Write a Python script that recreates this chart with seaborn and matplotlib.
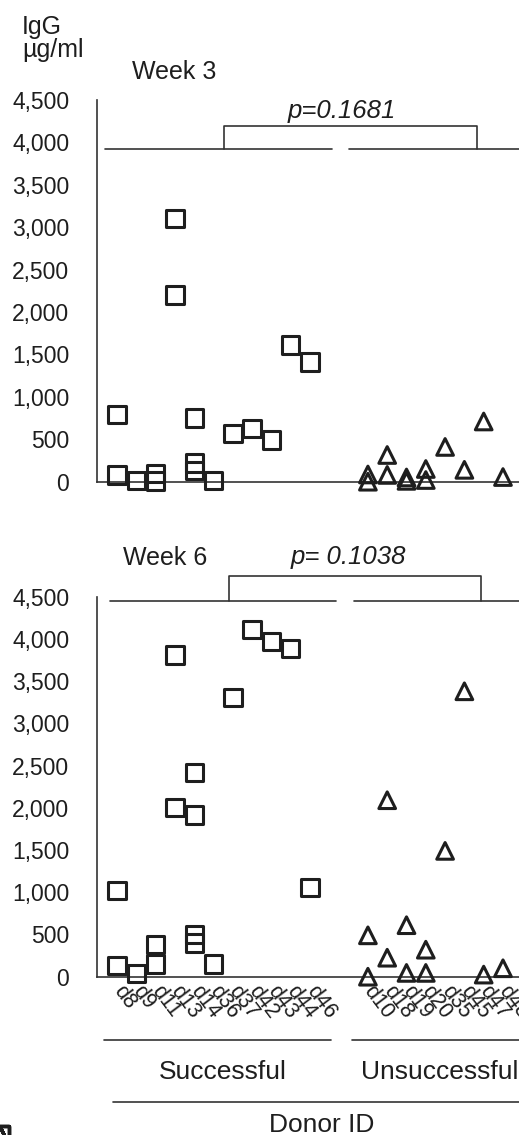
import numpy as np
import pandas as pd
import matplotlib
matplotlib.use("Agg")
import matplotlib.pyplot as plt
import seaborn as sns
from matplotlib.ticker import StrMethodFormatter

# ---------------- data ----------------
succ_donors = ["d8", "d9", "d11", "d13", "d14", "d36", "d37", "d42", "d43", "d44", "d46"]
unsucc_donors = ["d10", "d18", "d19", "d20", "d35", "d45", "d47", "d48"]
gap_slots = [" ", "  "]

w3_succ_donor = ["d8", "d8", "d9", "d11", "d11", "d13", "d13", "d14", "d14", "d14",
                 "d36", "d37", "d42", "d43", "d44", "d46"]
w3_succ_igg = [790, 80, 15, 100, 10, 3100, 2200, 750, 220, 130, 15, 570, 630, 490, 1610, 1410]
w3_unsucc_donor = ["d10", "d10", "d18", "d18", "d19", "d19", "d20", "d20", "d35", "d45", "d47", "d48"]
w3_unsucc_igg = [85, 0, 315, 80, 50, 10, 150, 20, 410, 140, 710, 55]

w6_succ_donor = ["d8", "d8", "d9", "d11", "d11", "d13", "d13", "d14", "d14", "d14", "d14",
                 "d36", "d37", "d42", "d43", "d44", "d46"]
w6_succ_igg = [1020, 130, 40, 380, 150, 3810, 2005, 2415, 1915, 500, 400, 150, 3310, 4110, 3970, 3890, 1060]
w6_unsucc_donor = ["d10", "d10", "d18", "d18", "d19", "d19", "d20", "d20", "d35", "d45", "d47", "d48"]
w6_unsucc_igg = [490, 0, 2090, 225, 610, 45, 320, 45, 1490, 3380, 25, 100]

yticks = list(range(0, 5000, 500))
group_names = ["Successful", "Unsuccessful"]
p_values = ["p=0.1681", "p= 0.1038"]
week_titles = ["Week 3", "Week 6"]

# ---------------- style ----------------
sns.set_style("white")
plt.rcParams["font.family"] = ["Liberation Sans", "DejaVu Sans"]
INK = "#1e1e1e"
LINE = "#333333"

W, H = 519, 1135
fig = plt.figure(figsize=(W / 100, H / 100), dpi=100)

order = succ_donors + gap_slots + unsucc_donors
xlim = (-1.04, 20.83)

def fy(px):
    return 1 - px / H

def fx(px):
    return px / W

ax_top = fig.add_axes([fx(97), fy(481.7), 1 - fx(97), 381.7 / H])
ax_bot = fig.add_axes([fx(97), fy(976.7), 1 - fx(97), 380 / H])


def panel(ax, sd, sv, ud, uv):
    df_s = pd.DataFrame({"donor": sd, "igg": sv})
    df_u = pd.DataFrame({"donor": ud, "igg": uv})
    sns.stripplot(data=df_s, x="donor", y="igg", order=order, jitter=False,
                  marker="s", size=12.5, color="white", edgecolor=INK,
                  linewidth=2.2, ax=ax)
    sns.stripplot(data=df_u, x="donor", y="igg", order=order, jitter=False,
                  marker="^", size=12, color="white", edgecolor=INK,
                  linewidth=2.2, ax=ax)
    for c in ax.collections:
        c.set_facecolor("none")
        c.set_clip_on(False)
    ax.set_xlim(*xlim)
    ax.set_ylim(0, 4500)
    ax.set_yticks(yticks)
    ax.yaxis.set_major_formatter(StrMethodFormatter("{x:,.0f}"))
    ax.tick_params(axis="y", length=0, pad=20, labelsize=16.5, labelcolor=INK)
    ax.tick_params(axis="x", length=0)
    ax.set_xlabel("")
    ax.set_ylabel("")
    for s in ["top", "right"]:
        ax.spines[s].set_visible(False)
    for s in ["left", "bottom"]:
        ax.spines[s].set_color(LINE)
        ax.spines[s].set_linewidth(1.2)


panel(ax_top, w3_succ_donor, w3_succ_igg, w3_unsucc_donor, w3_unsucc_igg)
panel(ax_bot, w6_succ_donor, w6_succ_igg, w6_unsucc_donor, w6_unsucc_igg)

ax_top.tick_params(axis="x", labelbottom=False)
ax_bot.tick_params(axis="x", pad=8)
for lab in ax_bot.get_xticklabels():
    lab.set_rotation(-53)
    lab.set_ha("left")
    lab.set_va("center")
    lab.set_rotation_mode("anchor")
    lab.set_fontsize(15.5)
    lab.set_color(INK)


def hline(ax, x0, x1, y, **kw):
    ax.plot([x0, x1], [y, y], color=LINE, lw=1.2, clip_on=False,
            transform=ax.get_xaxis_transform(), **kw)


def bracket(ax, x0, x1, y0, y1):
    ax.plot([x0, x0, x1, x1], [y0, y1, y1, y0], color=LINE, lw=1.2, clip_on=False,
            transform=ax.get_xaxis_transform())


hline(ax_top, -0.62, 11.14, 0.8716)
hline(ax_top, 12.0, 21.5, 0.8716)
bracket(ax_top, 5.54, 18.65, 0.8716, 0.9319)

hline(ax_bot, -0.36, 11.35, 0.9895)
hline(ax_bot, 12.28, 21.5, 0.9895)
bracket(ax_bot, 5.80, 18.86, 0.9895, 1.0545)

hline(ax_bot, -0.67, 11.09, -0.1666)
hline(ax_bot, 12.18, 21.5, -0.1666)
hline(ax_bot, -0.2, 21.5, -0.3297)

tr = ax_bot.get_xaxis_transform()
ax_bot.text(5.49, -0.2508, group_names[0], transform=tr, ha="center", va="center",
            fontsize=19, color=INK)
ax_bot.text(16.72, -0.2508, group_names[1], transform=tr, ha="center", va="center",
            fontsize=19, color=INK)
ax_bot.text(10.62, -0.3903, "Donor ID", transform=tr, ha="center", va="center",
            fontsize=19, color=INK)

fig.text(fx(22), fy(27), "IgG", ha="left", va="center", fontsize=18, color=INK)
fig.text(fx(22), fy(50), "µg/ml", ha="left", va="center", fontsize=18, color=INK)
fig.text(fx(132), fy(72), week_titles[0], ha="left", va="center", fontsize=18, color=INK)
fig.text(fx(123), fy(558), week_titles[1], ha="left", va="center", fontsize=18, color=INK)
fig.text(fx(342), fy(111), p_values[0], ha="center", va="center", fontsize=18.5,
         style="italic", color=INK)
fig.text(fx(348), fy(557), p_values[1], ha="center", va="center", fontsize=18.5,
         style="italic", color=INK)

fig.savefig("out.png", dpi=100, facecolor="white")
